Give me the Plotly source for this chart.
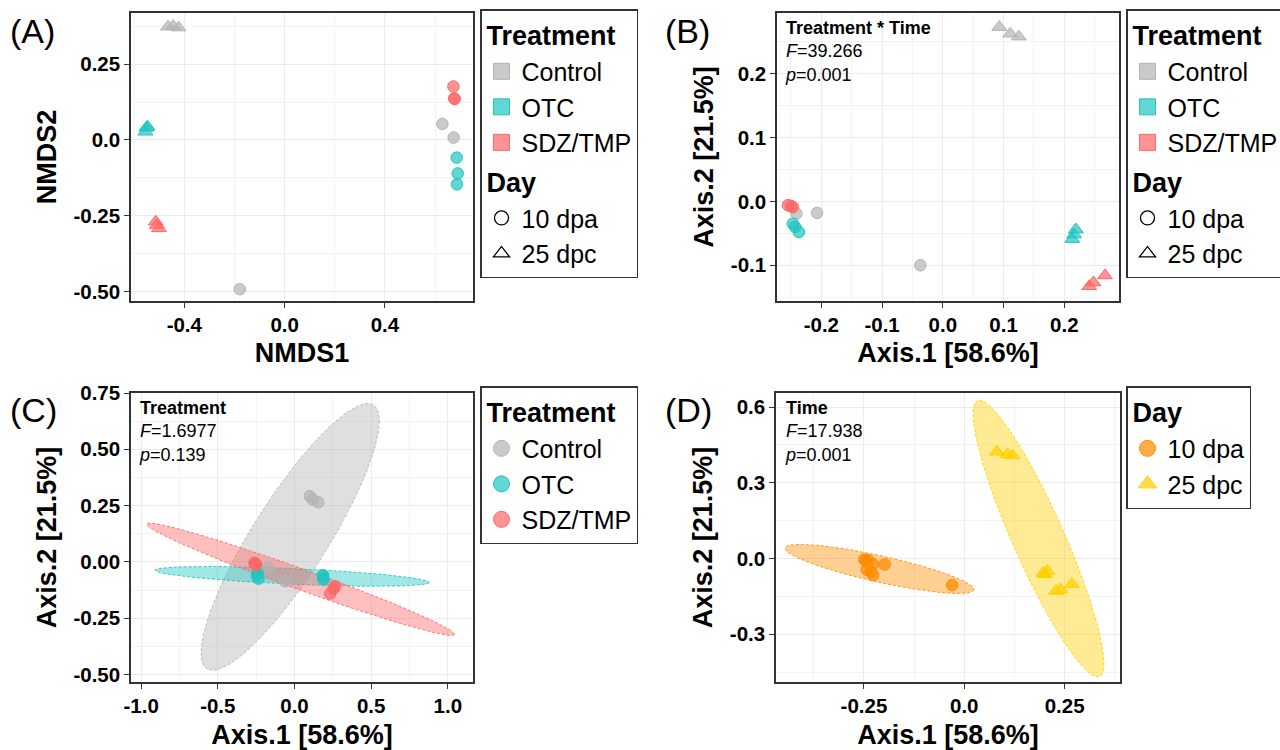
import numpy as np
import plotly.graph_objects as go

W, H = 1280, 750
FONT = "Arial, Liberation Sans, sans-serif"

# ---------------- data ----------------
treatments = ["Control", "OTC", "SDZ/TMP"]
days = ["10 dpa", "25 dpc"]

# Panel A : NMDS
a_x = {
    ("Control", "10 dpa"): [-0.179, 0.629, 0.674],
    ("Control", "25 dpc"): [-0.465, -0.445, -0.423],
    ("OTC", "10 dpa"): [0.686, 0.690, 0.687],
    ("OTC", "25 dpc"): [-0.551, -0.555, -0.547],
    ("SDZ/TMP", "10 dpa"): [0.673, 0.678, 0.676],
    ("SDZ/TMP", "25 dpc"): [-0.514, -0.509, -0.501],
}
a_y = {
    ("Control", "10 dpa"): [-0.491, 0.053, 0.008],
    ("Control", "25 dpc"): [0.373, 0.375, 0.370],
    ("OTC", "10 dpa"): [-0.058, -0.110, -0.146],
    ("OTC", "25 dpc"): [0.040, 0.027, 0.044],
    ("SDZ/TMP", "10 dpa"): [0.176, 0.135, 0.137],
    ("SDZ/TMP", "25 dpc"): [-0.269, -0.280, -0.291],
}

# Panel B : PCoA, Treatment * Time
b_x = {
    ("Control", "10 dpa"): [-0.241, -0.207, -0.037],
    ("Control", "25 dpc"): [0.093, 0.111, 0.125],
    ("OTC", "10 dpa"): [-0.247, -0.243, -0.237],
    ("OTC", "25 dpc"): [0.219, 0.216, 0.213],
    ("SDZ/TMP", "10 dpa"): [-0.255, -0.250, -0.247],
    ("SDZ/TMP", "25 dpc"): [0.267, 0.248, 0.241],
}
b_y = {
    ("Control", "10 dpa"): [-0.019, -0.018, -0.100],
    ("Control", "25 dpc"): [0.273, 0.2625, 0.258],
    ("OTC", "10 dpa"): [-0.035, -0.040, -0.048],
    ("OTC", "25 dpc"): [-0.044, -0.052, -0.059],
    ("SDZ/TMP", "10 dpa"): [-0.006, -0.007, -0.009],
    ("SDZ/TMP", "25 dpc"): [-0.116, -0.127, -0.133],
}

# Panel C : PCoA by Treatment
c_x = {
    "Control": [0.100, 0.118, 0.155, -0.170, -0.061, -0.240],
    "OTC": [-0.245, -0.235, -0.240, 0.185, 0.189, 0.187],
    "SDZ/TMP": [-0.261, -0.255, -0.250, 0.233, 0.255, 0.266],
}
c_y = {
    "Control": [0.292, 0.277, 0.265, -0.025, -0.086, -0.020],
    "OTC": [-0.059, -0.074, -0.050, -0.059, -0.078, -0.068],
    "SDZ/TMP": [-0.004, -0.010, -0.012, -0.140, -0.118, -0.108],
}
# ellipse summaries (centre, half-range x, half-range y, correlation)
c_ell_cx = [-0.028, -0.015, 0.040]
c_ell_cy = [0.111, -0.064, -0.077]
c_ell_ax = [0.581, 0.894, 1.003]
c_ell_ay = [0.592, 0.044, 0.249]
c_ell_rho = [0.87, -0.61, -0.98]

# Panel D : PCoA by Time
d_x = {
    "10 dpa": [-0.249, -0.239, -0.227, -0.198, -0.243, -0.233, -0.227, -0.030, -0.245],
    "25 dpc": [0.081, 0.108, 0.120, 0.197, 0.207, 0.201, 0.229, 0.240, 0.268],
}
d_y = {
    "10 dpa": [-0.004, -0.007, -0.023, -0.023, -0.044, -0.053, -0.066, -0.105, -0.010],
    "25 dpc": [0.423, 0.413, 0.408, -0.057, -0.049, -0.062, -0.128, -0.123, -0.102],
}
d_ell_cx = [-0.211, 0.185]
d_ell_cy = [-0.041, 0.079]
d_ell_ax = [0.235, 0.163]
d_ell_ay = [0.097, 0.548]
d_ell_rho = [-0.835, -0.903]

stats_b = ("Treatment * Time", "39.266", "0.001")
stats_c = ("Treatment", "1.6977", "0.139")
stats_d = ("Time", "17.938", "0.001")

# ---------------- styles ----------------
tcol = {"Control": (179, 179, 179), "OTC": (32, 197, 192), "SDZ/TMP": (255, 102, 102)}
dcol = {"10 dpa": (255, 140, 0), "25 dpc": (255, 208, 0)}
dsym = {"10 dpa": "circle", "25 dpc": "triangle-up"}


def rgba(c, a):
    return f"rgba({c[0]},{c[1]},{c[2]},{a})"


def px_x(p):
    return p / W


def px_y(p):
    return 1 - p / H


def ellipse(cx, cy, ax, ay, rho):
    t = np.linspace(0, 2 * np.pi, 181)
    phi = np.arccos(rho)
    return cx + ax * np.cos(t), cy + ay * np.cos(t + phi)


fig = go.Figure()

# Panel A
for tr in treatments:
    for d in days:
        fig.add_trace(go.Scatter(
            x=a_x[(tr, d)], y=a_y[(tr, d)], mode="markers", xaxis="x", yaxis="y",
            showlegend=False,
            marker=dict(symbol=dsym[d], size=13 if d == "25 dpc" else 11.5,
                        color=rgba(tcol[tr], 0.7), line=dict(color=rgba(tcol[tr], 1), width=1))))
# Panel B
for tr in treatments:
    for d in days:
        fig.add_trace(go.Scatter(
            x=b_x[(tr, d)], y=b_y[(tr, d)], mode="markers", xaxis="x2", yaxis="y2",
            showlegend=False,
            marker=dict(symbol=dsym[d], size=13 if d == "25 dpc" else 11.5,
                        color=rgba(tcol[tr], 0.7), line=dict(color=rgba(tcol[tr], 1), width=1))))
# Panel C ellipses + points
for i, tr in enumerate(treatments):
    ex, ey = ellipse(c_ell_cx[i], c_ell_cy[i], c_ell_ax[i], c_ell_ay[i], c_ell_rho[i])
    fig.add_trace(go.Scatter(
        x=ex, y=ey, mode="lines", fill="toself", xaxis="x3", yaxis="y3", showlegend=False,
        fillcolor=rgba(tcol[tr], 0.42), hoverinfo="skip",
        line=dict(color=rgba(tcol[tr], 0.9), width=1, dash="3px,2px")))
for tr in treatments:
    fig.add_trace(go.Scatter(
        x=c_x[tr], y=c_y[tr], mode="markers", xaxis="x3", yaxis="y3", showlegend=False,
        marker=dict(symbol="circle", size=11.5, color=rgba(tcol[tr], 0.7),
                    line=dict(color=rgba(tcol[tr], 1), width=1))))
# Panel D ellipses + points
for i, d in enumerate(days):
    ex, ey = ellipse(d_ell_cx[i], d_ell_cy[i], d_ell_ax[i], d_ell_ay[i], d_ell_rho[i])
    fig.add_trace(go.Scatter(
        x=ex, y=ey, mode="lines", fill="toself", xaxis="x4", yaxis="y4", showlegend=False,
        fillcolor=rgba(dcol[d], 0.42), hoverinfo="skip",
        line=dict(color=rgba(dcol[d], 0.9), width=1, dash="3px,2px")))
for d in days:
    fig.add_trace(go.Scatter(
        x=d_x[d], y=d_y[d], mode="markers", xaxis="x4", yaxis="y4", showlegend=False,
        marker=dict(symbol=dsym[d], size=13 if d == "25 dpc" else 11.5,
                    color=rgba(dcol[d], 0.72), line=dict(color=rgba(dcol[d], 1), width=1))))

# ---------------- legends ----------------
TITLE_FONT = dict(family=FONT, size=27, color="black", weight="bold")
for leg in ["legend", "legend2"]:
    for k, tr in enumerate(treatments):
        fig.add_trace(go.Scatter(
            x=[None], y=[None], mode="markers", name=tr, legend=leg, legendgroup=leg + "T",
            legendgrouptitle=dict(text="Treatment", font=TITLE_FONT) if k == 0 else None,
            marker=dict(symbol="square", size=16, color=rgba(tcol[tr], 0.7),
                        line=dict(color=rgba(tcol[tr], 1), width=1))))
    for k, d in enumerate(days):
        fig.add_trace(go.Scatter(
            x=[None], y=[None], mode="markers", name=d, legend=leg, legendgroup=leg + "D",
            legendgrouptitle=dict(text="Day", font=TITLE_FONT) if k == 0 else None,
            marker=dict(symbol=dsym[d] + "-open", size=14, color="black",
                        line=dict(color="black", width=1.3))))
for k, tr in enumerate(treatments):
    fig.add_trace(go.Scatter(
        x=[None], y=[None], mode="markers", name=tr, legend="legend3", legendgroup="CT",
        legendgrouptitle=dict(text="Treatment", font=TITLE_FONT) if k == 0 else None,
        marker=dict(symbol="circle", size=16, color=rgba(tcol[tr], 0.7),
                    line=dict(color=rgba(tcol[tr], 1), width=1))))
for k, d in enumerate(days):
    fig.add_trace(go.Scatter(
        x=[None], y=[None], mode="markers", name=d, legend="legend4", legendgroup="DD",
        legendgrouptitle=dict(text="Day", font=TITLE_FONT) if k == 0 else None,
        marker=dict(symbol=dsym[d], size=16, color=rgba(dcol[d], 0.72),
                    line=dict(color=rgba(dcol[d], 1), width=1))))

legend_common = dict(xanchor="left", yanchor="top", bgcolor="white", bordercolor="#333333",
                     borderwidth=1.5, font=dict(family=FONT, size=25, color="black"),
                     tracegroupgap=2, itemclick=False, itemdoubleclick=False)

# ---------------- axes ----------------
GRID = "#EBEBEB"
MINOR = "#F3F3F3"


def axis(domain, rng, tickvals, ticktext, minor_dtick, anchor, title, standoff):
    return dict(
        domain=domain, range=rng, anchor=anchor, tickvals=tickvals, ticktext=ticktext,
        showgrid=True, gridcolor=GRID, gridwidth=1.2, zeroline=False,
        showline=True, mirror=True, linecolor="#333333", linewidth=1.5,
        ticks="outside", ticklen=5, tickwidth=1.2, tickcolor="#333333",
        tickfont=dict(family=FONT, size=20.5, color="black", weight="bold"),
        minor=dict(dtick=minor_dtick, tick0=0, showgrid=True, gridcolor=MINOR,
                   gridwidth=1, ticks=""),
        title=dict(text=title, standoff=standoff,
                   font=dict(family=FONT, size=27, color="black", weight="bold")),
    )


xA = [px_x(131), px_x(473)]
yTop = [px_y(301), px_y(13)]
xB = [px_x(777), px_x(1119)]
yBot = [px_y(682), px_y(393)]

fig.update_layout(
    width=W, height=H, margin=dict(l=0, r=0, t=0, b=0, autoexpand=False),
    paper_bgcolor="white", plot_bgcolor="white",
    font=dict(family=FONT, color="black"),
    xaxis=axis(xA, [-0.6125, 0.751], [-0.4, 0.0, 0.4], ["-0.4", "0.0", "0.4"],
               0.2, "y", "NMDS1", 8),
    yaxis=axis(yTop, [-0.530, 0.418], [-0.5, -0.25, 0.0, 0.25], ["-0.50", "-0.25", "0.0", "0.25"],
               0.125, "x", "NMDS2", 9),
    xaxis2=axis(xB, [-0.273, 0.290], [-0.2, -0.1, 0.0, 0.1, 0.2], ["-0.2", "-0.1", "0.0", "0.1", "0.2"],
                0.05, "y2", "Axis.1 [58.6%]", 8),
    yaxis2=axis(yTop, [-0.156, 0.295], [-0.1, 0.0, 0.1, 0.2], ["-0.1", "0.0", "0.1", "0.2"],
                0.05, "x2", "Axis.2 [21.5%]", 9),
    xaxis3=axis(xA, [-1.066, 1.164], [-1.0, -0.5, 0.0, 0.5, 1.0], ["-1.0", "-0.5", "0.0", "0.5", "1.0"],
                0.25, "y3", "Axis.1 [58.6%]", 9),
    yaxis3=axis(yBot, [-0.533, 0.750], [-0.5, -0.25, 0.0, 0.25, 0.5, 0.75],
                ["-0.50", "-0.25", "0.00", "0.25", "0.50", "0.75"], 0.125, "x3", "Axis.2 [21.5%]", 9),
    xaxis4=axis([px_x(776), px_x(1120)], [-0.469, 0.388], [-0.25, 0.0, 0.25], ["-0.25", "0.0", "0.25"],
                0.125, "y4", "Axis.1 [58.6%]", 9),
    yaxis4=axis(yBot, [-0.489, 0.656], [-0.3, 0.0, 0.3, 0.6], ["-0.3", "0.0", "0.3", "0.6"],
                0.15, "x4", "Axis.2 [21.5%]", 9),
    legend=dict(x=px_x(480), y=px_y(9), **legend_common),
    legend2=dict(x=px_x(1126), y=px_y(9), **legend_common),
    legend3=dict(x=px_x(480), y=px_y(386), **legend_common),
    legend4=dict(x=px_x(1126), y=px_y(386), **legend_common),
)

# panel tags
for lab, xp, yp in [("(A)", 8, 31), ("(B)", 663, 31), ("(C)", 8, 410), ("(D)", 663, 410)]:
    fig.add_annotation(text=lab, x=px_x(xp), y=px_y(yp), xref="paper", yref="paper",
                       xanchor="left", yanchor="middle", showarrow=False,
                       font=dict(family=FONT, size=34, color="black"))

# PERMANOVA statistics
for st, xp, yp in [(stats_b, 783, 16), (stats_c, 137, 396), (stats_d, 783, 396)]:
    txt = f"<b>{st[0]}</b><br><i>F</i>={st[1]}<br><i>p</i>={st[2]}"
    fig.add_annotation(text=txt, x=px_x(xp), y=px_y(yp), xref="paper", yref="paper",
                       xanchor="left", yanchor="top", align="left", showarrow=False,
                       font=dict(family=FONT, size=18, color="black"))

fig.write_html("out.html")
